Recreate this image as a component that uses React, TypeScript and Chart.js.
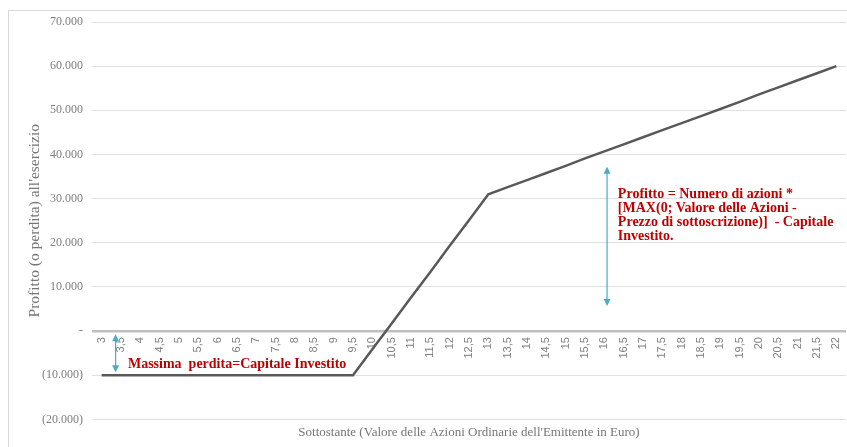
import React, { useEffect, useRef } from 'react';
import { Chart, registerables } from 'chart.js';

Chart.register(...registerables);

// Underlying share value (categories / x tick labels)
const categories: string[] = [
  '3', '3,5', '4', '4,5', '5', '5,5', '6', '6,5', '7', '7,5', '8', '8,5', '9', '9,5',
  '10', '10,5', '11', '11,5', '12', '12,5', '13', '13,5', '14', '14,5', '15', '15,5',
  '16', '16,5', '17', '17,5', '18', '18,5', '19', '19,5', '20', '20,5', '21', '21,5', '22',
];

// Profit (or loss) at exercise
const profit: number[] = [
  -10000, -10000, -10000, -10000, -10000, -10000, -10000, -10000, -10000, -10000, -10000, -10000, -10000, -10000,
  -4100, 1700, 7600, 13400, 19300, 25100, 31000,
  32600, 34200, 35800, 37400, 39100, 40700, 42300, 43900, 45500, 47100, 48700, 50300, 51900,
  53600, 55200, 56800, 58400, 60000,
];

const yMin = -20000;
const yMax = 70000;
const yStep = 10000;

const yTitle = "Profitto (o perdita) all'esercizio";
const xTitle = "Sottostante (Valore delle Azioni Ordinarie dell'Emittente in Euro)";

// Annotations (anchored in data space: category index, y value)
const arrowX: number[] = [0.72, 26.14];
const arrowFrom: number[] = [-700, 37200];
const arrowTo: number[] = [-9300, 5700];

const noteLines: string[][] = [
  ['Massima  perdita=Capitale Investito'],
  [
    'Profitto = Numero di azioni *',
    '[MAX(0; Valore delle Azioni -',
    'Prezzo di sottoscrizione)]  - Capitale',
    'Investito.',
  ],
];
const noteX: number[] = [1.36, 26.7];
const noteY: number[] = [-7500, 30900];

function fmtThousands(v: number): string {
  return String(Math.round(v)).replace(/\B(?=(\d{3})+(?!\d))/g, '.');
}

function fmtAccounting(v: number): string {
  if (v === 0) return '-';
  if (v < 0) return '(' + fmtThousands(-v) + ')';
  return fmtThousands(v);
}

const frame = {
  id: 'frame',
  beforeDraw(chart: any) {
    const ctx = chart.ctx;
    ctx.save();
    ctx.fillStyle = '#ffffff';
    ctx.fillRect(0, 0, chart.width, chart.height);
    ctx.strokeStyle = '#d9d9d9';
    ctx.lineWidth = 1;
    ctx.strokeRect(8.5, 10.5, chart.width + 50, chart.height + 50);
    ctx.restore();
  },
};

const notes = {
  id: 'notes',
  afterDatasetsDraw(chart: any) {
    const ctx = chart.ctx;
    const xs = chart.scales.x;
    const ys = chart.scales.y;
    ctx.save();
    // arrows
    ctx.strokeStyle = '#4bacc6';
    ctx.fillStyle = '#4bacc6';
    ctx.lineWidth = 1.25;
    for (let i = 0; i < arrowX.length; i++) {
      const x = xs.getPixelForValue(arrowX[i]);
      const y1 = ys.getPixelForValue(arrowFrom[i]);
      const y2 = ys.getPixelForValue(arrowTo[i]);
      const head = 7;
      const hw = 3.5;
      ctx.beginPath();
      ctx.moveTo(x, y1 + head - 1);
      ctx.lineTo(x, y2 - head + 1);
      ctx.stroke();
      ctx.beginPath();
      ctx.moveTo(x, y1);
      ctx.lineTo(x - hw, y1 + head);
      ctx.lineTo(x + hw, y1 + head);
      ctx.closePath();
      ctx.fill();
      ctx.beginPath();
      ctx.moveTo(x, y2);
      ctx.lineTo(x - hw, y2 - head);
      ctx.lineTo(x + hw, y2 - head);
      ctx.closePath();
      ctx.fill();
    }
    // texts
    ctx.fillStyle = '#c00000';
    ctx.font = 'bold 14px "Liberation Serif"';
    ctx.textAlign = 'left';
    ctx.textBaseline = 'middle';
    for (let i = 0; i < noteLines.length; i++) {
      const x = xs.getPixelForValue(noteX[i]);
      const y = ys.getPixelForValue(noteY[i]);
      noteLines[i].forEach((line, j) => {
        ctx.fillText(line, x, y + j * 14);
      });
    }
    ctx.restore();
  },
};

export default function App() {
  const ref = useRef<HTMLCanvasElement | null>(null);

  useEffect(() => {
    document.body.style.margin = '0';
    const canvas = ref.current;
    if (!canvas) return;
    const chart = new Chart(canvas, {
      type: 'line',
      data: {
        labels: categories,
        datasets: [
          {
            data: profit,
            borderColor: '#595959',
            borderWidth: 2.5,
            pointRadius: 0,
            pointHoverRadius: 0,
            tension: 0,
            fill: false,
          },
        ],
      },
      options: {
        responsive: false,
        animation: false,
        events: [],
        layout: { padding: { top: 22, right: 1, bottom: 0, left: 0 } },
        plugins: {
          legend: { display: false },
          tooltip: { enabled: false },
          title: {
            display: true,
            text: xTitle,
            position: 'bottom',
            fullSize: false,
            color: '#767676',
            font: { family: '"Liberation Serif"', size: 13, weight: 'normal' },
            padding: { top: 5, bottom: 7 },
          },
        },
        scales: {
          x: {
            type: 'category',
            position: { y: 0 } as any,
            offset: true,
            grid: { display: false, drawTicks: false },
            border: { display: false },
            ticks: {
              autoSkip: false,
              minRotation: 90,
              maxRotation: 90,
              padding: 6,
              color: '#7f7f7f',
              font: { family: '"Liberation Sans"', size: 11 },
            },
            afterFit(scale: any) {
              scale.height = 0;
              scale.paddingLeft = 0;
              scale.paddingRight = 0;
            },
          },
          y: {
            type: 'linear',
            position: 'left',
            min: yMin,
            max: yMax,
            ticks: {
              stepSize: yStep,
              padding: 9,
              color: '#7f7f7f',
              font: { family: '"Liberation Serif"', size: 12 },
              callback: (v: any) => fmtAccounting(Number(v)),
            },
            grid: {
              drawTicks: false,
              color: (c: any) => (c.tick && c.tick.value === 0 ? '#bfbfbf' : '#e0e0e0'),
              lineWidth: (c: any) => (c.tick && c.tick.value === 0 ? 2.5 : 1),
            },
            border: { display: false },
            title: {
              display: true,
              text: yTitle,
              color: '#767676',
              font: { family: '"Liberation Serif"', size: 15.5, weight: 'normal' },
              padding: { top: 26, bottom: 0 },
            },
            afterFit(scale: any) {
              scale.width = 92;
            },
          },
        },
      },
      plugins: [frame, notes],
    });
    return () => chart.destroy();
  }, []);

  return (
    <div style={{ position: 'fixed', left: 0, top: 0, width: 847, height: 447, background: '#fff' }}>
      <canvas ref={ref} width={847} height={447} style={{ width: 847, height: 447, display: 'block' }} />
    </div>
  );
}
